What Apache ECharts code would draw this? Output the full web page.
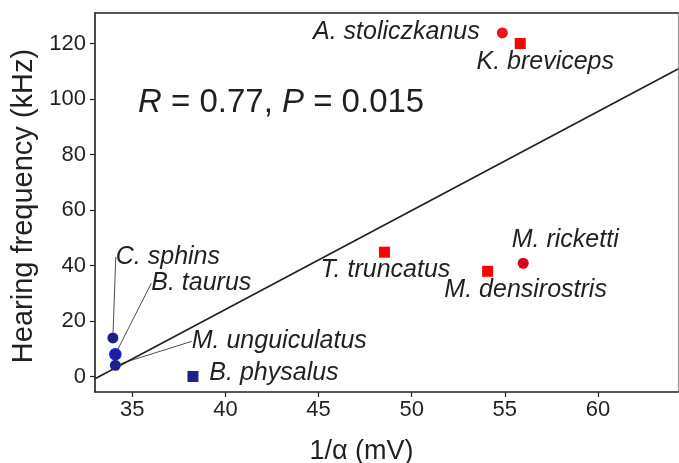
<!DOCTYPE html>
<html>
<head>
<meta charset="utf-8">
<script src="https://cdn.jsdelivr.net/npm/echarts@6/dist/echarts.min.js"></script>
<style>
html,body{margin:0;padding:0;background:#fff;}
#c{width:679px;height:463px;}
</style>
</head>
<body>
<div id="c"></div>
<script>
// ---- data ----
const species = ['A. stoliczkanus','K. breviceps','T. truncatus','M. densirostris','M. ricketti','C. sphins','B. taurus','M. unguiculatus','B. physalus'];
const inverseAlpha = [54.87, 55.83, 48.54, 54.08, 55.99, 33.96, 34.09, 34.09, 38.26];
const hearingFreq = [123.8, 120.0, 44.8, 37.9, 40.8, 13.9, 8.0, 4.0, 0.0];
const xTicks = [35, 40, 45, 50, 55, 60];
const yTicks = [0, 20, 40, 60, 80, 100, 120];
const fitX = [33.0, 64.3];
const fitY = [-0.8, 110.8];

// ---- styles (not data) ----
const INK = '#231f20';
const FONT = '"Liberation Sans", Arial, sans-serif';
const RED = '#ff0000', RED_C = '#f0101e', RED_D = '#dc001b', NAVY = '#1d2088';
const styleMap = {
  'A. stoliczkanus': {symbol:'circle', color:RED_C, off:[-106, -1]},
  'K. breviceps':    {symbol:'rect',   color:RED,   off:[25, 19]},
  'T. truncatus':    {symbol:'rect',   color:RED,   off:[1, 18]},
  'M. densirostris': {symbol:'rect',   color:RED,   off:[38, 19]},
  'M. ricketti':     {symbol:'circle', color:RED_D, off:[42, -23]},
  'C. sphins':       {symbol:'circle', color:NAVY,  off:[55, -81], guide:true},
  'B. taurus':       {symbol:'circle', color:NAVY,  off:[86, -71], guide:true, border:'#1a1aff'},
  'M. unguiculatus': {symbol:'circle', color:NAVY,  off:[164, -24], guide:true},
  'B. physalus':     {symbol:'rect',   color:NAVY,  off:[81, -3]}
};

const pts = species.map((name, i) => {
  const s = styleMap[name];
  return {
    name: name,
    value: [inverseAlpha[i], hearingFreq[i]],
    symbol: s.symbol,
    itemStyle: {color: s.color, opacity: 1, borderColor: s.border || s.color, borderWidth: s.border ? 1.5 : 0},
    label: {offset: s.off},
    labelLine: {show: !!s.guide}
  };
});

const chart = echarts.init(document.getElementById('c'), null, {renderer: 'canvas'});
chart.setOption({
  animation: false,
  backgroundColor: '#fff',
  grid: {left: 95, right: 1, top: 13, bottom: 71, containLabel: false, outerBoundsMode: 'none'},
  xAxis: [{
    type: 'value', min: 33, max: 64.3,
    name: '1/α (mV)', nameLocation: 'middle', nameGap: 46,
    nameTextStyle: {fontFamily: FONT, fontSize: 27, color: INK, padding: [0, 50, 0, 0]},
    axisLine: {show: true, onZero: false, lineStyle: {color: INK, width: 1.6}},
    axisTick: {show: true, length: 5, inside: false, customValues: xTicks, lineStyle: {color: INK, width: 1.2}},
    axisLabel: {customValues: xTicks, margin: 7, fontFamily: FONT, fontSize: 22, color: INK},
    splitLine: {show: false}
  }, {
    type: 'value', min: 33, max: 64.3, position: 'top',
    axisLine: {show: true, onZero: false, lineStyle: {color: INK, width: 1.6}},
    axisTick: {show: false}, axisLabel: {show: false}, splitLine: {show: false}
  }],
  yAxis: [{
    type: 'value', min: -5.6, max: 131,
    name: 'Hearing frequency (kHz)', nameLocation: 'middle', nameGap: 57,
    nameTextStyle: {fontFamily: FONT, fontSize: 29, color: INK, padding: [0, 7, 0, 0]},
    axisLine: {show: true, onZero: false, lineStyle: {color: INK, width: 1.6}},
    axisTick: {show: true, length: 5, inside: false, customValues: yTicks, lineStyle: {color: INK, width: 1.2}},
    axisLabel: {customValues: yTicks, margin: 9, fontFamily: FONT, fontSize: 22, color: INK},
    splitLine: {show: false}
  }, {
    type: 'value', min: -5.6, max: 131, position: 'right',
    axisLine: {show: true, onZero: false, lineStyle: {color: '#9a9a9a', width: 1.2}},
    axisTick: {show: false}, axisLabel: {show: false}, splitLine: {show: false}
  }],
  series: [{
    type: 'line',
    data: fitX.map((x, i) => [x, fitY[i]]),
    showSymbol: false, symbol: 'none', silent: true,
    lineStyle: {color: INK, width: 1.6},
    z: 2
  }, {
    type: 'scatter',
    symbolSize: 11,
    data: pts,
    z: 3,
    label: {
      show: true, position: 'inside', align: 'center', verticalAlign: 'middle',
      formatter: p => p.name,
      fontFamily: FONT, fontSize: 25, fontStyle: 'italic', color: INK
    },
    labelLine: {lineStyle: {color: INK, width: 0.8}}
  }],
  graphic: [{
    type: 'text', left: 138, top: 86,
    style: {
      text: '{i|R} = 0.77, {i|P} = 0.015',
      fontFamily: FONT, fontSize: 33, fill: INK,
      rich: {i: {fontFamily: FONT, fontSize: 33, fontStyle: 'italic', fill: INK}}
    }
  }]
});
</script>
</body>
</html>
